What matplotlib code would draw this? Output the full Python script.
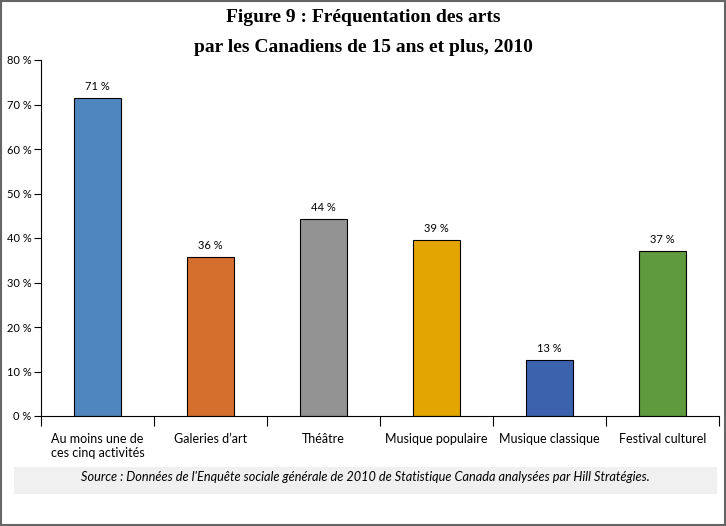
import matplotlib
matplotlib.use("Agg")
import matplotlib.pyplot as plt
from matplotlib.patches import Rectangle
from matplotlib.ticker import FixedLocator, MultipleLocator

categories = ["Au moins une de\nces cinq activités", "Galeries d\u2019art", "Théâtre",
              "Musique populaire", "Musique classique", "Festival culturel"]
values = [71.4, 35.7, 44.3, 39.5, 12.6, 37.1]
labels = ["71 %", "36 %", "44 %", "39 %", "13 %", "37 %"]
colors = ["#4f86bd", "#d46f2e", "#939393", "#e3a600", "#3c62ad", "#5f9a3e"]

plt.rcParams['font.family'] = ['Lato', 'DejaVu Sans']

fig = plt.figure(figsize=(7.26, 5.26), dpi=100)
ax = fig.add_axes([41 / 726, 1 - 416 / 526, (719 - 41) / 726, (416 - 60) / 526])

x = range(len(categories))
ax.bar(x, values, width=0.41, color=colors, edgecolor="black", linewidth=0.8)
for i, (v, lab) in enumerate(zip(values, labels)):
    ax.text(i, v + 1.4, lab, ha="center", va="bottom", fontsize=8)

ax.set_xlim(-0.5, len(categories) - 0.5)
ax.set_ylim(0, 80)
ax.yaxis.set_major_locator(MultipleLocator(10))
ax.set_yticklabels([f"{int(t)} %" for t in ax.get_yticks()], fontsize=8)
ax.set_xticks(list(x))
ax.set_xticklabels(categories, fontsize=9)
ax.xaxis.set_minor_locator(FixedLocator([i - 0.5 for i in range(len(categories) + 1)]))
ax.tick_params(axis="x", which="major", length=0, pad=12)
ax.tick_params(axis="x", which="minor", length=7, width=0.8, direction="out")
ax.tick_params(axis="y", length=5, width=0.8, direction="out", pad=2)
for t in ax.get_xticklabels():
    t.set_verticalalignment("top")
    t.set_multialignment("left")
ax.spines["top"].set_visible(False)
ax.spines["right"].set_visible(False)
ax.spines["left"].set_linewidth(0.8)
ax.spines["bottom"].set_linewidth(0.8)

title_font = ["Liberation Serif", "DejaVu Serif"]
fig.text(0.5, 1 - 18 / 526, "Figure 9 : Fréquentation des arts",
         ha="center", va="center", fontsize=14, fontweight="bold", family=title_font)
fig.text(0.5, 1 - 47 / 526, "par les Canadiens de 15 ans et plus, 2010",
         ha="center", va="center", fontsize=14, fontweight="bold", family=title_font)

# source box
fig.patches.append(Rectangle((14 / 726, 1 - 494 / 526), (717 - 14) / 726, 27 / 526,
                             transform=fig.transFigure, facecolor="#f0f0f0", edgecolor="none"))
fig.text(365 / 726, 1 - 477 / 526,
         "Source : Données de l'Enquête sociale générale de 2010 de Statistique Canada analysées par Hill Stratégies.",
         ha="center", va="center", fontsize=9.2, style="italic")

# outer frame
fig.patches.append(Rectangle((0.001, 0.001), 0.998, 0.997, transform=fig.transFigure,
                             facecolor="none", edgecolor="#666666", linewidth=1.5))

fig.savefig("out.png", dpi=100)
